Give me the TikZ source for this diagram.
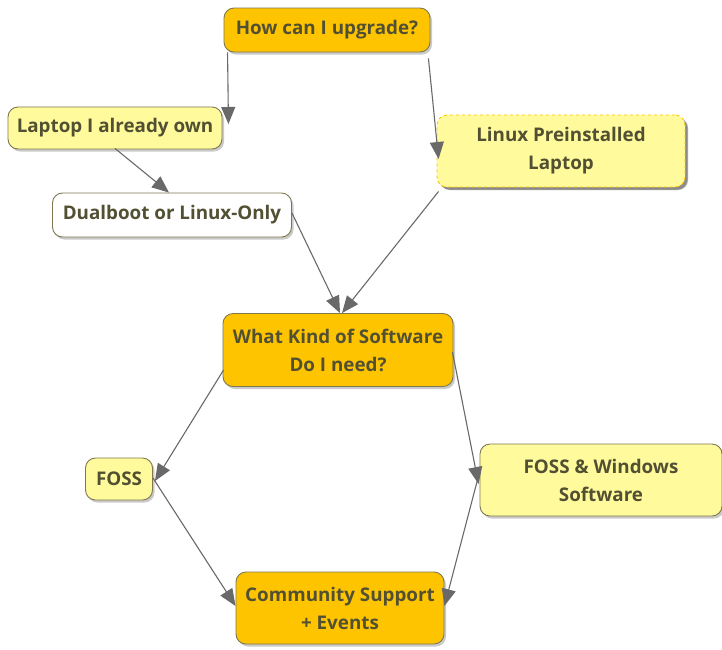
\documentclass[tikz,border=0pt]{standalone}
\usepackage{fontspec}
\setmainfont{Open Sans}
\usetikzlibrary{arrows.meta,shadows}
\definecolor{gold}{RGB}{255,196,0}
\definecolor{lightyel}{RGB}{255,250,155}
\definecolor{bordercol}{RGB}{125,120,80}
\definecolor{txt}{RGB}{82,80,50}
\definecolor{linecol}{RGB}{105,105,105}
\tikzset{
  box/.style={rounded corners=10pt, draw=bordercol, line width=0.9pt, text=txt,
    font=\bfseries\fontsize{18.8}{28}\selectfont, align=center, inner sep=0pt,
    drop shadow={shadow xshift=2pt, shadow yshift=-2.5pt, fill=black!35, opacity=0.6}},
  goldbox/.style={box, fill=gold},
  yelbox/.style={box, fill=lightyel},
  whitebox/.style={box, fill=white},
  arr/.style={draw=linecol, line width=1.1pt, -{Triangle[length=17pt,width=14pt]}}
}
\begin{document}
\begin{tikzpicture}[x=1pt,y=-1pt]
\useasboundingbox (0,0) rectangle (722,649);
\node[goldbox, minimum width=206pt, minimum height=44pt] (how) at (327,30) {How can I upgrade?};
\node[yelbox, minimum width=214pt, minimum height=42pt] (own) at (115,128) {Laptop I already own};
\node[yelbox, minimum width=248pt, minimum height=72pt, draw=gold, dashed,
  drop shadow={shadow xshift=3pt, shadow yshift=-3pt, fill=black!70}] (pre) at (561,151) {Linux Preinstalled\\Laptop};
\node[whitebox, minimum width=239pt, minimum height=44pt] (dual) at (172,215) {Dualboot or Linux-Only};
\node[goldbox, minimum width=230pt, minimum height=73pt] (what) at (338,350) {What Kind of Software\\Do I need?};
\node[yelbox, minimum width=67pt, minimum height=42pt] (foss) at (119,479) {FOSS};
\node[yelbox, minimum width=242pt, minimum height=72pt] (fw) at (601,480) {FOSS \& Windows\\Software};
\node[goldbox, minimum width=208pt, minimum height=72pt] (comm) at (340,608) {Community Support\\+ Events};

\coordinate (ownend) at ([xshift=6pt,yshift=4pt]own.east);
\draw[arr] ([xshift=4pt]how.south west) -- (ownend);
\draw[arr] ([xshift=-2pt,yshift=-6pt]how.south east) -- ([xshift=2pt,yshift=-8pt]pre.west);
\draw[arr] ([yshift=1pt]own.south) -- ([xshift=-3pt]dual.north);
\draw[arr] ([yshift=2pt]dual.east) -- ([xshift=2pt]what.north);
\draw[arr] ([xshift=2pt,yshift=-4pt]pre.south west) -- ([xshift=4pt]what.north);
\draw[arr] ([xshift=1pt,yshift=-20pt]what.west) -- ([xshift=2pt,yshift=-2pt]foss.east);
\draw[arr] ([xshift=-1pt,yshift=-2pt]what.east) -- ([xshift=-1pt,yshift=-4pt]fw.west);
\draw[arr] ([yshift=1pt]foss.east) -- ([yshift=2pt]comm.west);
\draw[arr] ([yshift=8pt]fw.west) -- ([yshift=2pt]comm.east);
\end{tikzpicture}
\end{document}
